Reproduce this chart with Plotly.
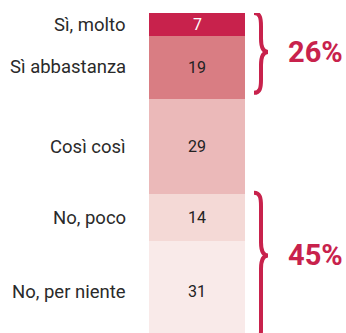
import plotly.graph_objects as go

# Answer categories, top to bottom, with their percentage shares
categories = ["Sì, molto", "Sì abbastanza", "Così così", "No, poco", "No, per niente"]
values = [7, 19, 29, 14, 31]
colors = ["#C8224C", "#D97D83", "#EBB9B9", "#F4D9D6", "#F9EAE9"]
value_colors = ["#FFFFFF", "#222222", "#222222", "#222222", "#222222"]

# Grouped totals shown next to the braces
group_labels = ["26%", "45%"]
group_spans = [(0, 26), (55, 100)]

ACCENT = "#C8224C"
FONT = "Roboto"

fig = go.Figure()

bases = []
acc = 0
for v in values:
    bases.append(acc)
    acc += v

for cat, v, b, c in zip(categories, values, bases, colors):
    fig.add_trace(go.Bar(
        x=[0], y=[v], base=[b], width=[1],
        marker=dict(color=c, line=dict(width=0)),
        name=cat, hoverinfo="skip", showlegend=False,
    ))

annotations = []
for cat, v, b, tc in zip(categories, values, bases, value_colors):
    mid = b + v / 2
    # value inside the segment
    annotations.append(dict(
        x=0, y=mid, xref="x", yref="y", text=str(v), showarrow=False,
        font=dict(family=FONT, size=16, color=tc),
    ))
    # category label on the left
    annotations.append(dict(
        x=0, y=mid, xref="paper", yref="y", text=cat, showarrow=False,
        xanchor="right", xshift=-21,
        font=dict(family=FONT, size=18.5, color="#2A2A2A"),
    ))

# Curly braces to the right of the bar (x in paper units of the 96px-wide plot)
def px(x):
    return (x - 149) / 96.0

shapes = []
for (lo, hi), label in zip(group_spans, group_labels):
    if lo == 0:
        top, tip, bot = lo + 0.0, lo + 11.8, hi - 1.8
    else:
        top, tip, bot = lo - 0.5, lo + 18.5, hi
    xl, xm, xr = px(254), px(261), px(268)
    path = (
        f"M {xl},{top} "
        f"C {px(260)},{top} {xm},{top + 1.5} {xm},{top + 4} "
        f"L {xm},{tip - 4} "
        f"C {xm},{tip - 1.5} {px(263)},{tip} {xr},{tip} "
        f"C {px(263)},{tip} {xm},{tip + 1.5} {xm},{tip + 4} "
        f"L {xm},{bot - 4} "
        f"C {xm},{bot - 1.5} {px(260)},{bot} {xl},{bot}"
    )
    shapes.append(dict(
        type="path", path=path, xref="paper", yref="y",
        line=dict(color=ACCENT, width=4), layer="above",
    ))
    annotations.append(dict(
        x=px(315), y=tip, xref="paper", yref="y", text=f"<b>{label}</b>",
        showarrow=False, xanchor="center",
        font=dict(family=FONT, size=29, color=ACCENT),
    ))

fig.update_layout(
    width=346, height=333,
    margin=dict(l=149, r=101, t=13, b=0),
    paper_bgcolor="white", plot_bgcolor="white",
    barmode="overlay", bargap=0,
    xaxis=dict(range=[-0.5, 0.5], visible=False, fixedrange=True),
    yaxis=dict(range=[97, 0], visible=False, fixedrange=True),
    shapes=shapes, annotations=annotations,
)

fig.write_html("out.html")
